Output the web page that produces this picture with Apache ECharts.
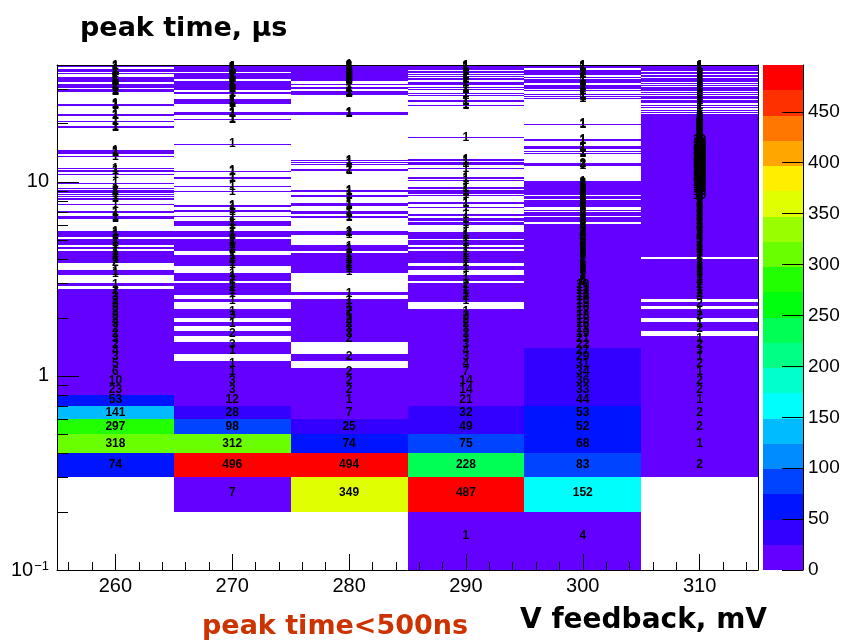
<!DOCTYPE html>
<html>
<head>
<meta charset="utf-8">
<script src="https://cdn.jsdelivr.net/npm/echarts@6/dist/echarts.min.js"></script>
<style>
  html, body { margin: 0; padding: 0; background: #fff; }
  #chart { width: 843px; height: 642px; }
</style>
</head>
<body>
<div id="chart"></div>
<script>
// Feedback voltage columns (bin centres, bins are 10 mV wide)
const feedbackMV = [260, 270, 280, 290, 300, 310];
const halfWidthMV = 5;
const binUs = 0.1;        // peak-time bin width, µs
const nBins = 400;        // 0 … 40 µs

// Counts of the first 20 peak-time bins (0 … 2 µs) per column
const low260 = [0, 0, 0, 74, 318, 297, 141, 53, 23, 10, 6, 5, 3, 4, 2, 3, 2, 2, 3, 2];
const low270 = [0, 0, 7, 496, 312, 98, 28, 12, 3, 3, 1, 1, 0, 1, 3, 0, 2, 0, 1, 0];
const low280 = [0, 0, 349, 494, 74, 25, 7, 1, 2, 2, 2, 0, 2, 0, 0, 2, 3, 3, 2, 2];
const low290 = [0, 1, 487, 228, 75, 49, 32, 21, 14, 14, 7, 4, 3, 4, 3, 3, 2, 3, 2, 2];
const low300 = [0, 4, 152, 83, 68, 52, 53, 44, 33, 36, 34, 31, 29, 27, 22, 21, 19, 18, 16, 15];
const low310 = [0, 0, 0, 2, 1, 2, 2, 1, 2, 2, 1, 2, 1, 3, 2, 1, 0, 2, 1, 0];

// Counts from 2 µs upwards: one string per µs (10 bins), base-36 digits
const high260 = [
  "3232231201", "0001100021", "1211010111", "1011110000", "0000111001", "1000001000", "0110101011", "2010000100",
  "0000000010", "0001100100", "0000000000", "0000010000", "1101100000", "0000000000", "0000000000", "0000000000",
  "0000000000", "1101000000", "0000110000", "0000000001", "1100000000", "0000000000", "0000000111", "1100000000",
  "0000000000", "0000000000", "0000000000", "1011011010", "0000001101", "1101010100", "0000000111", "1111011111",
  "1111101000", "0000000001", "0000000011", "1111011111", "1000000000", "0110100000"
];
const high270 = [
  "3100101121", "0211000112", "1100121111", "1011110001", "1110001000", "1100110000", "0000000001", "0000100000",
  "0001010000", "0011000000", "0000000000", "0000000000", "0000000000", "0000001000", "0000000000", "0000000000",
  "0000000000", "0000000000", "0000000011", "1000000000", "0001011010", "0000000000", "0000000000", "0011010110",
  "1010001000", "0000000000", "0000011010", "0000000000", "1101001010", "1011010110", "1101101100", "0000000000",
  "1111011101", "1110111011", "0000000000", "0011110111", "1111011111", "1101000000"
];
const high280 = [
  "1211101000", "0000111211", "1110111000", "0001210000", "0000011011", "1000011100", "0000110001", "1000000000",
  "0000000000", "0000120000", "0001001010", "0000000000", "0000000000", "0000000000", "0000000000", "0000000000",
  "0000000000", "0000000000", "0000000000", "0000000000", "0001101000", "0000000000", "0000000000", "0000000000",
  "0000000000", "0000000000", "0001101111", "1100000000", "0110110000", "0000001000", "0000000000", "0001111111",
  "1111011110", "1011011011", "1101101111", "1110011011", "1121101101", "1101111211"
];
const high290 = [
  "2100121112", "0110011011", "1111010111", "0111100000", "1101100100", "0001000110", "0000010111", "1011000000",
  "0101010000", "0000001000", "0001101010", "1000000000", "0000000000", "0000000000", "0000000010", "0000000000",
  "0000000000", "0000000000", "0000000000", "0000000000", "0000000000", "0000000000", "0000000110", "0000000011",
  "1100000000", "0000000110", "0000110000", "0000000011", "1000001100", "0000000110", "0011000000", "0000011000",
  "1100000001", "1000001100", "0000000110", "0110000011", "0000011000", "1100001100"
];
const high300 = [
  "ihgfgedcba", "9879786867", "7686566545", "5454435343", "3032320232", "0200212321", "2012202121", "1212112121",
  "1000000000", "0000000000", "0130200000", "0000000001", "1010000011", "1010000000", "0010010000", "0000000000",
  "0000000000", "0000000110", "0000000000", "0000000000", "0000000000", "0000000000", "0000000000", "0000000000",
  "0000000110", "0000011000", "0110000000", "0000110000", "0200000110", "0001100000", "0000001100", "1100000110",
  "0001100000", "0000002100", "1100000110", "0001100000", "0000001100", "1100001100"
];
const high310 = [
  "2102032112", "1215221231", "0231243423", "3424353645", "5465746857", "6857968789", "7968a879a8", "98a7b9a89a",
  "a9b8a9c9ab", "9aba8b9ac9", "b9ac9ab8ba", "9ab9cab9a8", "a9b8a9ab98", "8a9a79a8b9", "9879a89798", "7986879768",
  "6857686576", "5646574565", "4535453434", "3424323212", "1100001100", "0001100000", "1100001100", "0000011000",
  "1100000110", "0001100000", "0110000110", "0000110000", "1100001100", "0001100000", "1100000110", "0000110000",
  "0110000110", "0001100000", "1100001100", "0000011000", "1100001100", "0011000110"
];

// Axis ticks
const xMajorTicks = [260, 270, 280, 290, 300, 310];
const xMinorTicks = [256, 258, 262, 264, 266, 268, 272, 274, 276, 278, 282, 284, 286, 288,
                     292, 294, 296, 298, 302, 304, 306, 308, 312, 314];
const yMajorTicks = [0.1, 1, 10];
const yMinorTicks = [0.2, 0.3, 0.4, 0.5, 0.6, 0.7, 0.8, 0.9, 2, 3, 4, 5, 6, 7, 8, 9, 20, 30, 40];
const zTicks = [0, 50, 100, 150, 200, 250, 300, 350, 400, 450];

// 20-level violet → red palette
const palette = ['#6300ff', '#3300ff', '#0014ff', '#0044ff', '#008bff', '#00bbff', '#00fffc', '#00ffcc',
                 '#00ff85', '#00ff55', '#00ff0e', '#22ff00', '#69ff00', '#99ff00', '#e0ff00', '#ffee00',
                 '#ffa700', '#ff7700', '#ff3000', '#ff0000'];

const xMin = 255, xMax = 315, yMin = 0.1, yMax = 40;

const lowCounts = [low260, low270, low280, low290, low300, low310];
const highCounts = [high260, high270, high280, high290, high300, high310];

const columns = feedbackMV.map((mv, i) => {
  const upper = highCounts[i].join('').split('').map(c => parseInt(c, 36));
  return lowCounts[i].concat(upper).slice(0, nBins);
});

// Non-empty cells: [mV, bin centre µs, count, bin index]
const cells = [];
columns.forEach((col, i) => {
  col.forEach((n, b) => {
    if (n > 0 && (b + 1) * binUs > yMin) {
      cells.push([feedbackMV[i], (b + 0.5) * binUs, n, b]);
    }
  });
});

const zMax = Math.max(...cells.map(c => c[2]));
const nLevels = palette.length;
function levelOf(n) {
  return Math.min(nLevels - 1, Math.floor(n * nLevels / zMax));
}

// Boxes snap to whole pixels; bins thinner than a pixel become one pixel row
function cellItem(params, api) {
  const x = api.value(0), n = api.value(2), b = api.value(3);
  const lo = Math.max(b * binUs, yMin);
  const hi = (b + 1) * binUs;
  const p0 = api.coord([x - halfWidthMV, lo]);
  const p1 = api.coord([x + halfWidthMV, hi]);
  const x0 = Math.round(p0[0]), x1 = Math.round(p1[0]);
  let yTop = Math.round(p1[1]), yBot = Math.round(p0[1]);
  if (yBot - yTop < 1) {
    yTop = Math.floor((p0[1] + p1[1]) / 2);
    yBot = yTop + 1;
  }
  return {
    type: 'rect',
    shape: { x: x0, y: yTop, width: x1 - x0, height: yBot - yTop },
    style: { fill: palette[levelOf(n)] }
  };
}

function labelItem(params, api) {
  const p = api.coord([api.value(0), api.value(1)]);
  return {
    type: 'text', x: p[0], y: p[1],
    style: {
      text: String(api.value(2)), fill: '#000',
      font: 'bold 12px "Liberation Sans", Arial, sans-serif',
      align: 'center', verticalAlign: 'middle'
    }
  };
}

const yTickData = yMajorTicks.map(v => [xMin, v, 22]).concat(yMinorTicks.map(v => [xMin, v, 11]));
function yTickItem(params, api) {
  const p = api.coord([api.value(0), api.value(1)]);
  const y = Math.round(p[1]) + 0.5;
  return {
    type: 'line',
    shape: { x1: p[0], y1: y, x2: p[0] + api.value(2), y2: y },
    style: { stroke: '#000', lineWidth: 1 }
  };
}

const levelData = palette.map((c, k) => [0, k * zMax / nLevels, (k + 1) * zMax / nLevels, k]);
function levelItem(params, api) {
  const p0 = api.coord([0, api.value(1)]);
  const p1 = api.coord([1, api.value(2)]);
  const yTop = Math.round(p1[1]), yBot = Math.round(p0[1]);
  return {
    type: 'rect',
    shape: { x: p0[0], y: yTop, width: p1[0] - p0[0], height: yBot - yTop },
    style: { fill: palette[api.value(3)] }
  };
}

function logLabel(v) {
  const l = Math.log10(v), e = Math.round(l);
  if (Math.abs(l - e) > 1e-6) return '';
  if (e === 0) return '1';
  if (e === 1) return '10';
  return '10{sup|\u2212' + Math.abs(e) + '}';
}

const labelFont = '"Liberation Sans", Arial, sans-serif';
const titleFont = '"DejaVu Sans", sans-serif';

const chart = echarts.init(document.getElementById('chart'), null, { renderer: 'canvas' });
chart.setOption({
  animation: false,
  backgroundColor: '#fff',
  grid: [
    { left: 57, top: 65, width: 701, height: 505, show: false },
    { left: 763, top: 65, width: 40, height: 505, show: false }
  ],
  xAxis: [
    {
      gridIndex: 0, type: 'value', position: 'bottom', min: xMin, max: xMax, z: 10,
      axisLine: { show: true, onZero: false, lineStyle: { color: '#000', width: 1 } },
      axisTick: { show: true, inside: true, length: 16, customValues: xMajorTicks, lineStyle: { color: '#000' } },
      axisLabel: { show: true, customValues: xMajorTicks, fontSize: 20, fontFamily: labelFont, color: '#000', margin: 6 },
      splitLine: { show: false }
    },
    {
      gridIndex: 0, type: 'value', position: 'bottom', min: xMin, max: xMax, z: 10,
      axisLine: { show: false, onZero: false },
      axisTick: { show: true, inside: true, length: 8, customValues: xMinorTicks, lineStyle: { color: '#000' } },
      axisLabel: { show: false },
      splitLine: { show: false }
    },
    {
      gridIndex: 0, type: 'value', position: 'top', min: xMin, max: xMax, z: 10,
      axisLine: { show: true, onZero: false, lineStyle: { color: '#000', width: 1 } },
      axisTick: { show: false }, axisLabel: { show: false }, splitLine: { show: false }
    },
    {
      gridIndex: 1, type: 'value', min: 0, max: 1, show: false,
      axisLine: { onZero: false }
    }
  ],
  yAxis: [
    {
      gridIndex: 0, type: 'log', logBase: 10, position: 'left', min: yMin, max: yMax, z: 10,
      axisLine: { show: true, onZero: false, lineStyle: { color: '#000', width: 1 } },
      axisTick: { show: false },
      axisLabel: {
        show: true, fontSize: 20, fontFamily: labelFont, color: '#000', margin: 8,
        formatter: logLabel,
        rich: { sup: { fontSize: 13, fontFamily: labelFont, color: '#000', verticalAlign: 'top', padding: [0, 0, 0, 1] } }
      },
      splitLine: { show: false }
    },
    {
      gridIndex: 0, type: 'log', logBase: 10, position: 'right', min: yMin, max: yMax, z: 10,
      axisLine: { show: true, onZero: false, lineStyle: { color: '#000', width: 1 } },
      axisTick: { show: false }, axisLabel: { show: false }, splitLine: { show: false }
    },
    {
      gridIndex: 1, type: 'value', position: 'right', min: 0, max: zMax, z: 10,
      axisLine: { show: true, onZero: false, lineStyle: { color: '#000', width: 1 } },
      axisTick: { show: true, inside: true, length: 21, customValues: zTicks, lineStyle: { color: '#000' } },
      axisLabel: { show: true, customValues: zTicks, fontSize: 19, fontFamily: labelFont, color: '#000', margin: 5 },
      splitLine: { show: false }
    }
  ],
  series: [
    {
      name: 'cells', type: 'custom', xAxisIndex: 0, yAxisIndex: 0, z: 2,
      progressive: 0, renderItem: cellItem, data: cells, encode: { x: 0, y: 1 }
    },
    {
      name: 'counts', type: 'custom', xAxisIndex: 0, yAxisIndex: 0, z: 3,
      progressive: 0, renderItem: labelItem, data: cells, encode: { x: 0, y: 1 }
    },
    {
      name: 'yticks', type: 'custom', xAxisIndex: 0, yAxisIndex: 0, z: 11,
      renderItem: yTickItem, data: yTickData, encode: { x: 0, y: 1 }
    },
    {
      name: 'palette', type: 'custom', xAxisIndex: 3, yAxisIndex: 2, z: 2,
      renderItem: levelItem, data: levelData, encode: { x: 0, y: 1 }
    }
  ],
  graphic: [
    { type: 'text', x: 80, y: 29, style: { text: 'peak time, \u03bcs', font: 'bold 27px ' + titleFont, fill: '#000', verticalAlign: 'middle' } },
    { type: 'text', x: 202, y: 627, style: { text: 'peak time<500ns', font: 'bold 27px ' + titleFont, fill: '#cc3300', verticalAlign: 'middle' } },
    { type: 'text', x: 520, y: 621, style: { text: 'V feedback, mV', font: 'bold 28px ' + titleFont, fill: '#000', verticalAlign: 'middle' } }
  ]
});
</script>
</body>
</html>
